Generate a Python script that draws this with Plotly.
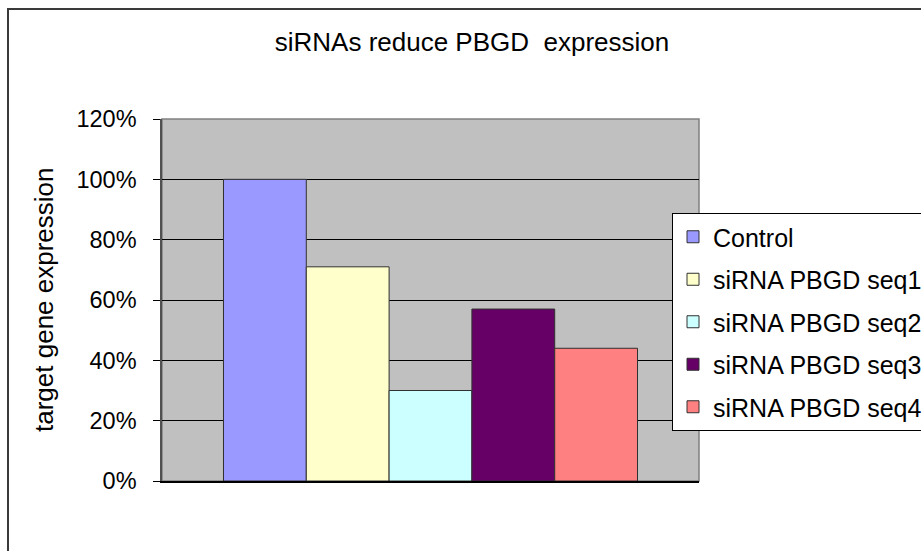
import plotly.graph_objects as go

# ---- data ----
category = ["PBGD"]
series_names = ["Control", "siRNA PBGD seq1", "siRNA PBGD seq2", "siRNA PBGD seq3", "siRNA PBGD seq4"]
series_values = [1.00, 0.71, 0.30, 0.57, 0.44]
series_colors = ["#9999FF", "#FFFFCC", "#CCFFFF", "#660066", "#FF8080"]
y_tick_vals = [0, 0.2, 0.4, 0.6, 0.8, 1.0, 1.2]
y_tick_text = ["0%", "20%", "40%", "60%", "80%", "100%", "120%"]
title_text = "siRNAs reduce PBGD\u00a0 expression"
y_title = "target gene expression"

FONT = "Liberation Sans, Arial, sans-serif"

W, H = 921, 551
L, R, T, B = 162, 222, 119, 70
PW, PH = W - L - R, H - T - B


def px_x(x):
    return (x - L) / PW


def px_y(y):
    return (H - B - y) / PH


fig = go.Figure()
for name, val, col in zip(series_names, series_values, series_colors):
    fig.add_trace(go.Bar(
        x=category, y=[val], name=name, legendgroup=name,
        marker=dict(color=col, line=dict(color="#303030", width=1)),
    ))

fig.update_layout(
    width=W, height=H,
    margin=dict(l=L, r=R, t=T, b=B, autoexpand=False),
    paper_bgcolor="white",
    plot_bgcolor="#C0C0C0",
    barmode="group", bargap=0.229, bargroupgap=0,
    font=dict(family=FONT, color="black"),
    title=dict(text=title_text, x=472 / W, y=1 - 42 / H, xanchor="center", yanchor="middle",
               font=dict(family=FONT, size=26, color="black")),
    showlegend=True,
    legend=dict(x=px_x(672), y=px_y(213), xanchor="left", yanchor="top",
                bgcolor="white", bordercolor="black", borderwidth=1,
                font=dict(family=FONT, size=25, color="black"),
                tracegroupgap=7, traceorder="grouped"),
    xaxis=dict(showticklabels=False, ticks="", showgrid=False, showline=True,
               linecolor="black", linewidth=1.5, zeroline=False),
    yaxis=dict(range=[0, 1.2], tickvals=y_tick_vals, ticktext=y_tick_text,
               ticks="outside", ticklen=7, tickcolor="black", tickwidth=1,
               ticklabelstandoff=12,
               tickfont=dict(family=FONT, size=23.5, color="black"),
               showgrid=True, gridcolor="black", gridwidth=1,
               showline=True, linecolor="#505050", linewidth=1.5, zeroline=False),
    shapes=[
        dict(type="rect", xref="paper", yref="paper", x0=0, x1=1, y0=0, y1=1,
             line=dict(color="#808080", width=1.5), layer="below"),
        dict(type="rect", xref="paper", yref="paper",
             x0=px_x(8), x1=px_x(940), y0=px_y(570), y1=px_y(9),
             line=dict(color="#3a3a3a", width=2), fillcolor="rgba(0,0,0,0)", layer="below"),
    ],
    annotations=[
        dict(text=y_title, xref="paper", yref="paper", x=px_x(44), y=0.5,
             xanchor="center", yanchor="middle", textangle=-90, showarrow=False,
             font=dict(family=FONT, size=26, color="black")),
    ],
)

fig.write_html("out.html")
